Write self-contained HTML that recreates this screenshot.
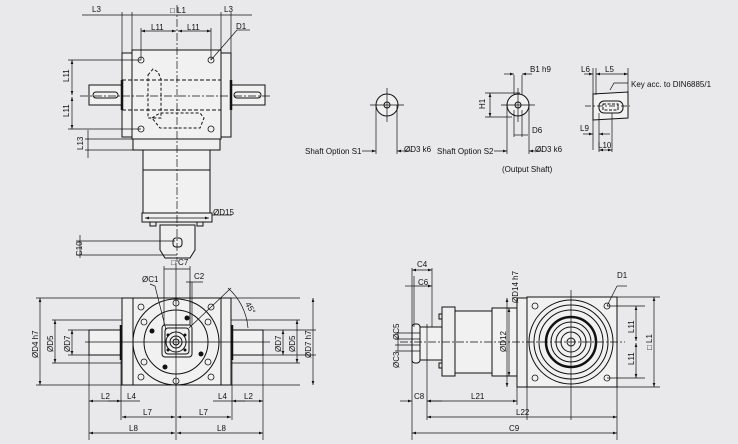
<!DOCTYPE html>
<html><head><meta charset="utf-8"><style>
html,body{margin:0;padding:0;background:#e9e9eb;}
svg{display:block}
text{font-family:"Liberation Sans",sans-serif;font-size:8px;fill:#111}
</style></head><body>
<svg width="738" height="444" viewBox="0 0 738 444" xmlns="http://www.w3.org/2000/svg">
<defs>
<marker id="a" viewBox="0 0 6 4" refX="6" refY="2" markerWidth="6" markerHeight="4" orient="auto-start-reverse"><path d="M0,0L6,2L0,4z" fill="#111"/></marker>
</defs>
<rect width="738" height="444" fill="#e9e9eb"/>
<g stroke="#111" stroke-width="1" fill="none">
<!-- TOP VIEW -->
<rect x="122" y="53" width="10" height="84" fill="#efefef"/>
<rect x="221" y="53" width="10" height="84" fill="#efefef"/>
<rect x="132" y="50" width="89" height="89" fill="#f1f1f1"/>
<rect x="89" y="85" width="33" height="20" fill="#f1f1f1"/>
<rect x="231" y="85" width="34" height="20" fill="#f1f1f1"/>
<rect x="93" y="92" width="25" height="6" rx="3"/>
<rect x="234" y="92" width="27" height="6" rx="3"/>
<line x1="122" y1="80" x2="122" y2="110" stroke-width="2.5"/>
<line x1="231" y1="80" x2="231" y2="110" stroke-width="2.5"/>
<path d="M122 80H221M122 110H221" stroke-dasharray="4,2"/>
<path d="M148 75L153 69L158 72L161 79V118L148 118Z M152 118L160 113H200L204 118L200 128H160Z" stroke-dasharray="3,2"/>
<rect x="133" y="139" width="87" height="11" fill="#efefef"/>
<rect x="143" y="150" width="67" height="63" fill="#f1f1f1"/>
<line x1="143" y1="170" x2="210" y2="170"/>
<rect x="142" y="213" width="70" height="9" fill="#efefef"/>
<rect x="150" y="222" width="6" height="4"/><rect x="197" y="222" width="6" height="4"/>
<path d="M160 225H195V250L190 258H165L160 250Z" fill="#efefef"/>
<rect x="173" y="238" width="9" height="9" rx="3"/>
<line x1="177" y1="5" x2="177" y2="262" stroke-dasharray="8,2,2,2" stroke-width=".7"/>
<line x1="80" y1="96" x2="270" y2="96" stroke-dasharray="8,2,2,2" stroke-width=".7"/>
<g stroke-width=".8">
<circle cx="141" cy="60" r="3"/><circle cx="211" cy="60" r="3"/><circle cx="141" cy="129" r="3"/><circle cx="211" cy="129" r="3"/>
</g>
<!-- top dims -->
<g stroke-width=".7">
<line x1="82" y1="15" x2="252" y2="15"/>
<path d="M122 12V53M132 12V50M221 12V50M231 12V53"/>
<line x1="141" y1="31" x2="176" y2="31" marker-start="url(#a)" marker-end="url(#a)"/>
<line x1="178" y1="31" x2="211" y2="31" marker-start="url(#a)" marker-end="url(#a)"/>
<path d="M141 28V60M211 28V60"/>
<line x1="211" y1="60" x2="237" y2="30"/><line x1="237" y1="30" x2="250" y2="30"/>
<line x1="72" y1="60" x2="72" y2="95" marker-start="url(#a)" marker-end="url(#a)"/>
<line x1="72" y1="97" x2="72" y2="129" marker-start="url(#a)" marker-end="url(#a)"/>
<path d="M68 60H141M68 129H141"/>
<line x1="88" y1="130" x2="88" y2="158"/><path d="M85 139H133M85 150H143"/>
<line x1="80" y1="235" x2="80" y2="258"/><path d="M76 241H175M76 255H177"/>
<line x1="145" y1="218" x2="209" y2="218" marker-start="url(#a)" marker-end="url(#a)"/>
<line x1="212" y1="215" x2="232" y2="215"/>
</g>
<!-- BOTTOM LEFT -->
<rect x="122" y="298" width="11" height="87" fill="#efefef"/>
<rect x="221" y="298" width="10" height="87" fill="#efefef"/>
<rect x="133" y="298" width="88" height="87" fill="#f1f1f1"/>
<rect x="89" y="330" width="33" height="25" fill="#f1f1f1"/>
<rect x="231" y="330" width="32" height="25" fill="#f1f1f1"/>
<line x1="121" y1="325" x2="121" y2="360" stroke-width="2.5"/>
<line x1="232" y1="325" x2="232" y2="360" stroke-width="2.5"/>
<circle cx="176" cy="342" r="43"/>
<circle cx="176" cy="342" r="32"/>
<rect x="162" y="325" width="30" height="32" rx="3"/>
<rect x="165" y="328" width="24" height="26" rx="3"/>
<circle cx="176" cy="342" r="10"/><circle cx="176" cy="342" r="6"/><circle cx="176" cy="342" r="3"/>
<g stroke-width=".8">
<circle cx="141" cy="307" r="3"/><circle cx="211" cy="307" r="3"/><circle cx="141" cy="377" r="3"/><circle cx="211" cy="377" r="3"/>
<circle cx="176" cy="303" r="3"/><circle cx="176" cy="381" r="3"/>
<circle cx="144" cy="322" r="3"/><circle cx="208" cy="322" r="3"/><circle cx="144" cy="362" r="3"/><circle cx="208" cy="362" r="3"/>
</g>
<g fill="#111" stroke="none">
<circle cx="152" cy="331" r="2.5"/><circle cx="201" cy="354" r="2.5"/><circle cx="187" cy="318" r="2.5"/><circle cx="165" cy="367" r="2.5"/>
<circle cx="168" cy="335" r="1.5"/><circle cx="185" cy="335" r="1.5"/><circle cx="168" cy="350" r="1.5"/><circle cx="185" cy="350" r="1.5"/>
</g>
<line x1="176" y1="263" x2="176" y2="440" stroke-width=".7"/>
<line x1="85" y1="342" x2="270" y2="342" stroke-width=".7"/>
<g stroke-width=".7">
<path d="M36 298H133M221 298H300M36 385H133M221 385H300"/>
<line x1="40" y1="298" x2="40" y2="385" marker-start="url(#a)" marker-end="url(#a)"/>
<path d="M52 320H122M52 363H122M231 320H300M231 363H300"/>
<line x1="55" y1="320" x2="55" y2="363" marker-start="url(#a)" marker-end="url(#a)"/>
<path d="M68 330H89M68 355H89M263 330H316M263 355H316"/>
<line x1="72" y1="330" x2="72" y2="355" marker-start="url(#a)" marker-end="url(#a)"/>
<line x1="283" y1="330" x2="283" y2="355" marker-start="url(#a)" marker-end="url(#a)"/>
<line x1="297" y1="320" x2="297" y2="363" marker-start="url(#a)" marker-end="url(#a)"/>
<line x1="313" y1="298" x2="313" y2="385" marker-start="url(#a)" marker-end="url(#a)"/>
<path d="M89 355V440M263 355V440M121 360V420M232 360V420"/>
<line x1="89" y1="401" x2="121" y2="401" marker-start="url(#a)" marker-end="url(#a)"/>
<line x1="108" y1="401" x2="140" y2="401"/>
<line x1="263" y1="401" x2="232" y2="401" marker-start="url(#a)" marker-end="url(#a)"/>
<line x1="213" y1="401" x2="245" y2="401"/>
<line x1="122" y1="417" x2="175" y2="417" marker-start="url(#a)" marker-end="url(#a)"/>
<line x1="177" y1="417" x2="231" y2="417" marker-start="url(#a)" marker-end="url(#a)"/>
<line x1="89" y1="433" x2="175" y2="433" marker-start="url(#a)" marker-end="url(#a)"/>
<line x1="177" y1="433" x2="263" y2="433" marker-start="url(#a)" marker-end="url(#a)"/>
<path d="M164 266V325M190 266V325M164 269H190"/>
<path d="M186 282H203M190 282V325M192 282V325"/>
<path d="M150 284L155 286L166 330"/>
<path d="M189 328L231 288"/>
<path d="M228 288A60 60 0 0 1 248 328"/>
</g>
<!-- BOTTOM RIGHT -->
<rect x="527" y="297" width="90" height="90" fill="#f1f1f1"/>
<rect x="517" y="298" width="10" height="89" fill="#efefef"/>
<rect x="492" y="308" width="25" height="68" fill="#f1f1f1"/>
<rect x="455" y="311" width="37" height="62" fill="#f1f1f1"/>
<rect x="442" y="307" width="13" height="69" fill="#efefef"/>
<rect x="439" y="314" width="3" height="5"/><rect x="439" y="363" width="3" height="5"/>
<path d="M413 327H442V360H413Z" fill="#f1f1f1"/>
<rect x="412" y="324" width="8" height="39" rx="3" fill="#f1f1f1"/>
<circle cx="571" cy="342" r="42"/><circle cx="571" cy="342" r="37"/><circle cx="571" cy="342" r="32"/>
<circle cx="571" cy="342" r="25" stroke-width="2.5"/><circle cx="571" cy="342" r="20"/><circle cx="571" cy="342" r="15"/><circle cx="571" cy="342" r="10"/><circle cx="571" cy="342" r="4"/>
<g stroke-width=".8"><circle cx="535" cy="306" r="3"/><circle cx="607" cy="306" r="3"/><circle cx="535" cy="378" r="3"/><circle cx="607" cy="378" r="3"/></g>
<line x1="400" y1="342" x2="625" y2="342" stroke-dasharray="8,2,2,2" stroke-width=".7"/>
<line x1="571" y1="290" x2="571" y2="420" stroke-width=".7"/>
<g stroke-width=".7">
<line x1="507" y1="298" x2="507" y2="387" marker-start="url(#a)" marker-end="url(#a)"/>
<line x1="509" y1="308" x2="509" y2="376" marker-start="url(#a)" marker-end="url(#a)"/>
<path d="M617 297H660M617 387H660M607 306H645M607 378H645"/>
<line x1="654" y1="297" x2="654" y2="387" marker-start="url(#a)" marker-end="url(#a)"/>
<line x1="636" y1="306" x2="636" y2="341" marker-start="url(#a)" marker-end="url(#a)"/>
<line x1="636" y1="343" x2="636" y2="378" marker-start="url(#a)" marker-end="url(#a)"/>
<line x1="607" y1="306" x2="617" y2="286"/><line x1="617" y1="286" x2="627" y2="286"/>
<path d="M412 268V440M432 268V327M414 276V327M427 324V420M527 387V420M617 387V440M517 387V405"/>
<line x1="412" y1="270" x2="432" y2="270" marker-start="url(#a)" marker-end="url(#a)"/>
<line x1="405" y1="286" x2="414" y2="286"/><line x1="414" y1="286" x2="432" y2="286" marker-end="url(#a)"/>
<line x1="400" y1="401" x2="412" y2="401" marker-end="url(#a)"/><line x1="427" y1="401" x2="442" y2="401" marker-start="url(#a)"/>
<line x1="427" y1="401" x2="517" y2="401" marker-start="url(#a)" marker-end="url(#a)"/>
<line x1="427" y1="417" x2="617" y2="417" marker-start="url(#a)" marker-end="url(#a)"/>
<line x1="412" y1="433" x2="617" y2="433" marker-start="url(#a)" marker-end="url(#a)"/>
<path d="M395 333H420M395 339H420M395 345H420M395 351H420M398 333V351"/>
</g>
<!-- SHAFT OPTIONS -->
<circle cx="387" cy="105" r="11" fill="#f1f1f1"/><circle cx="387" cy="105" r="3"/>
<path d="M370 105H404M387 88V122" stroke-width=".7"/>
<path d="M376 105V154M397 105V154" stroke-width=".7"/>
<line x1="362" y1="151" x2="376" y2="151" marker-end="url(#a)" stroke-width=".7"/>
<line x1="411" y1="151" x2="397" y2="151" marker-end="url(#a)" stroke-width=".7"/>
<circle cx="518" cy="105" r="11" fill="#f1f1f1"/><circle cx="518" cy="105" r="3"/>
<path d="M501 105H535M518 88V122" stroke-width=".7"/>
<path d="M507 105V154M529 105V154M514 75V95M522 75V95M514 110V137M522 110V137" stroke-width=".7"/>
<path d="M485 93H520M485 117H512" stroke-width=".7"/>
<line x1="490" y1="93" x2="490" y2="117" marker-start="url(#a)" marker-end="url(#a)" stroke-width=".7"/>
<line x1="504" y1="74" x2="514" y2="74" marker-end="url(#a)" stroke-width=".7"/><line x1="532" y1="74" x2="522" y2="74" marker-end="url(#a)" stroke-width=".7"/>
<path d="M514 135H528" stroke-width=".7"/>
<line x1="494" y1="151" x2="507" y2="151" marker-end="url(#a)" stroke-width=".7"/>
<line x1="542" y1="151" x2="529" y2="151" marker-end="url(#a)" stroke-width=".7"/>
<path d="M593 94L628 92V118L593 120Z" fill="#f1f1f1"/>
<rect x="599" y="101" width="24" height="12" rx="5"/>
<path d="M603 104H618V110H603Z" stroke-dasharray="3,1.5"/>
<path d="M585 106H630" stroke-width=".7" stroke-dasharray="6,2,2,2"/>
<path d="M593 68V150M596 68V95M628 68V92M599 113V152M612 113V152" stroke-width=".7"/>
<line x1="584" y1="74" x2="593" y2="74" marker-end="url(#a)" stroke-width=".7"/>
<line x1="596" y1="74" x2="628" y2="74" marker-start="url(#a)" marker-end="url(#a)" stroke-width=".7"/>
<path d="M610 90L614 83H628" stroke-width=".7"/>
<line x1="583" y1="134" x2="593" y2="134" marker-end="url(#a)" stroke-width=".7"/><line x1="610" y1="134" x2="599" y2="134" marker-end="url(#a)" stroke-width=".7"/>
<line x1="599" y1="150" x2="612" y2="150" marker-start="url(#a)" marker-end="url(#a)" stroke-width=".7"/>
</g>
<!-- LABELS -->
<text x="92" y="12">L3</text><text x="224" y="12">L3</text><text x="170" y="13">□ L1</text>
<text x="151" y="30">L11</text><text x="187" y="30">L11</text><text x="236" y="29">D1</text>
<text transform="translate(69,82) rotate(-90)">L11</text><text transform="translate(69,117) rotate(-90)">L11</text>
<text transform="translate(83,150) rotate(-90)">L13</text><text transform="translate(82,256) rotate(-90)">C10</text>
<text x="213" y="215">ØD15</text>
<text x="171" y="265">□ C7</text><text x="142" y="282">ØC1</text><text x="194" y="279">C2</text>
<text transform="translate(245,304) rotate(60)">45°</text>
<text transform="translate(38,358) rotate(-90)">ØD4 h7</text><text transform="translate(53,352) rotate(-90)">ØD5</text><text transform="translate(70,352) rotate(-90)">ØD7</text>
<text transform="translate(281,352) rotate(-90)">ØD7</text><text transform="translate(295,352) rotate(-90)">ØD5</text><text transform="translate(311,358) rotate(-90)">ØD7 h7</text>
<text x="101" y="399">L2</text><text x="127" y="399">L4</text><text x="218" y="399">L4</text><text x="244" y="399">L2</text>
<text x="143" y="415">L7</text><text x="199" y="415">L7</text><text x="129" y="431">L8</text><text x="217" y="431">L8</text>
<text x="417" y="267">C4</text><text x="418" y="285">C6</text>
<text transform="translate(518,303) rotate(-90)">ØD14 h7</text>
<text transform="translate(506,352) rotate(-90)">ØD12</text>
<text transform="translate(399,340) rotate(-90)">ØC5</text><text transform="translate(399,368) rotate(-90)">ØC3</text>
<text x="617" y="278">D1</text>
<text transform="translate(634,333) rotate(-90)">L11</text><text transform="translate(634,365) rotate(-90)">L11</text>
<text transform="translate(652,350) rotate(-90)">□ L1</text>
<text x="414" y="399">C8</text><text x="471" y="399">L21</text><text x="516" y="415">L22</text><text x="509" y="431">C9</text>
<text x="305" y="154">Shaft Option S1</text><text x="404" y="152">ØD3 k6</text>
<text x="437" y="154">Shaft Option S2</text><text x="535" y="152">ØD3 k6</text>
<text x="502" y="172">(Output Shaft)</text>
<text x="530" y="72">B1 h9</text><text x="532" y="133">D6</text>
<text transform="translate(485,109) rotate(-90)">H1</text>
<text x="581" y="72">L6</text><text x="605" y="72">L5</text>
<text x="631" y="87">Key acc. to DIN6885/1</text>
<text x="580" y="131">L9</text><text x="598" y="148">L10</text>
</svg>
</body></html>
